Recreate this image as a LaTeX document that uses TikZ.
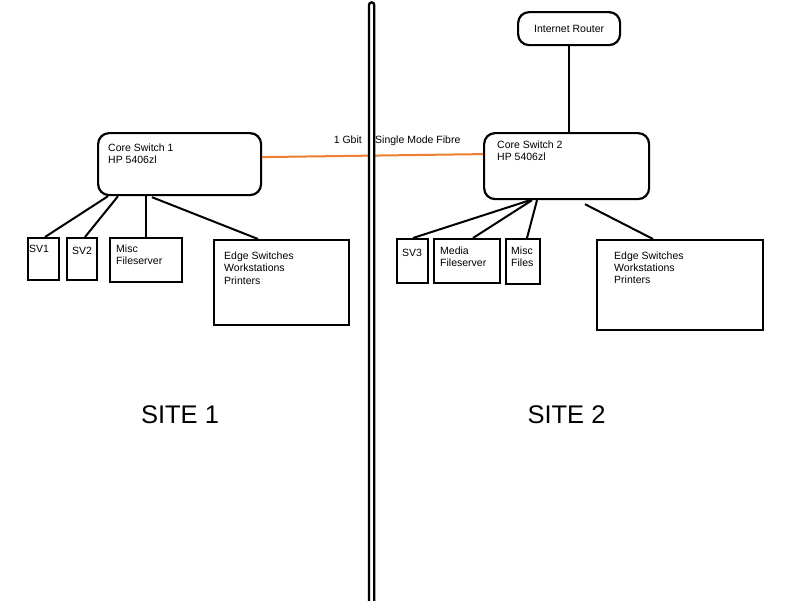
\documentclass[tikz,border=0pt]{standalone}
\usepackage{fontspec}
\setmainfont{Liberation Sans}
\usetikzlibrary{calc}
\definecolor{fibre}{RGB}{237,125,49}
\begin{document}
\begin{tikzpicture}[x=1pt,y=-1pt,
  box/.style={draw=black,line width=2.2pt,fill=white,inner sep=0pt,anchor=north west},
  rbox/.style={box,rounded corners=11pt},
  txt/.style={inner sep=0pt,anchor=base west,align=left,font=\fontsize{10.5}{11.8}\selectfont},
  link/.style={line width=2pt,black},
  big/.style={inner sep=0pt,anchor=base,font=\fontsize{25.5}{28}\selectfont}]
\useasboundingbox[fill=white] (0,0) rectangle (800,600);
% core switches and router
\node[rbox,minimum width=163pt,minimum height=62pt] (cs1) at (97,132) {};
\node[txt] (cs1t) at (108,163) {Core Switch 1\\HP 5406zl};
\node[rbox,minimum width=165pt,minimum height=66pt] (cs2) at (483,132) {};
\node[txt] (cs2t) at (497,160.7) {Core Switch 2\\HP 5406zl};
\node[rbox,minimum width=102pt,minimum height=33pt] (rt) at (517,11) {};
\node[inner sep=0pt,anchor=base,font=\fontsize{10.5}{12}\selectfont] (rtt) at ($(rt.center)+(0,3.5)$) {Internet Router};
% site 1 boxes
\node[box,minimum width=31pt,minimum height=42pt] (sv1) at (27,237) {};
\node[txt] (sv1t) at (29,252) {SV1};
\node[box,minimum width=30pt,minimum height=42pt] (sv2) at (66,237) {};
\node[txt] (sv2t) at (72,254) {SV2};
\node[box,minimum width=72pt,minimum height=44pt] (msf) at (109,237) {};
\node[txt] (msft) at (116,264) {Misc\\Fileserver};
\node[box,minimum width=135pt,minimum height=85pt] (es1) at (213,239) {};
\node[txt,font=\fontsize{10.5}{12.4}\selectfont] (es1t) at (224,284) {Edge Switches\\Workstations\\Printers};
% site 2 boxes
\node[box,minimum width=31pt,minimum height=44pt] (sv3) at (396,238) {};
\node[txt] (sv3t) at (402,256.5) {SV3};
\node[box,minimum width=66pt,minimum height=44pt] (mfs) at (433,238) {};
\node[txt] (mfst) at (440,266) {Media\\Fileserver};
\node[box,minimum width=34pt,minimum height=45pt] (mf) at (505,238) {};
\node[txt] (mft) at (511,266) {Misc\\Files};
\node[box,minimum width=166pt,minimum height=90pt] (es2) at (596,239) {};
\node[txt,font=\fontsize{10.5}{12.2}\selectfont] (es2t) at (614,283.5) {Edge Switches\\Workstations\\Printers};
% connectors site 1
\draw[link] ([xshift=11pt]cs1.south west) -- ([xshift=18pt]sv1.north west);
\draw[link] ([xshift=21pt]cs1.south west) -- ([xshift=19pt]sv2.north west);
\draw[link] ([xshift=49pt]cs1.south west) -- ([xshift=37pt]msf.north west);
\draw[link] ([xshift=55pt,yshift=-1pt]cs1.south west) -- ([xshift=45pt]es1.north west);
% connectors site 2
\draw[link] (rt.south) -- (cs2.north -| rt.south);
\draw[link] ([xshift=47pt]cs2.south west) -- ([xshift=17pt]sv3.north west);
\draw[link] ([xshift=49pt]cs2.south west) -- ([xshift=40pt]mfs.north west);
\draw[link] ([xshift=54pt]cs2.south west) -- ([xshift=22pt]mf.north west);
\draw[link] ([xshift=102pt,yshift=-4pt]cs2.south west) -- ([xshift=57pt]es2.north west);
% fibre link
\draw[fibre,line width=2pt] ([yshift=7pt]cs1.east) -- ([yshift=12pt]cs2.west);
\node[inner sep=0pt,anchor=base east,font=\fontsize{10.5}{12}\selectfont] (gbit) at (362,143) {1 Gbit};
\node[inner sep=0pt,anchor=base west,font=\fontsize{10.5}{12}\selectfont] (smf) at (375,143) {Single Mode Fibre};
% divider
\draw[line width=2.3pt,fill=white] (369,601) -- (369,5) arc[start angle=180,end angle=0,radius=2.65pt] -- (374.3,601);
% site labels
\node[big] (s1) at (180,423) {SITE 1};
\node[big] (s2) at (566.5,423) {SITE 2};
\end{tikzpicture}
\end{document}
